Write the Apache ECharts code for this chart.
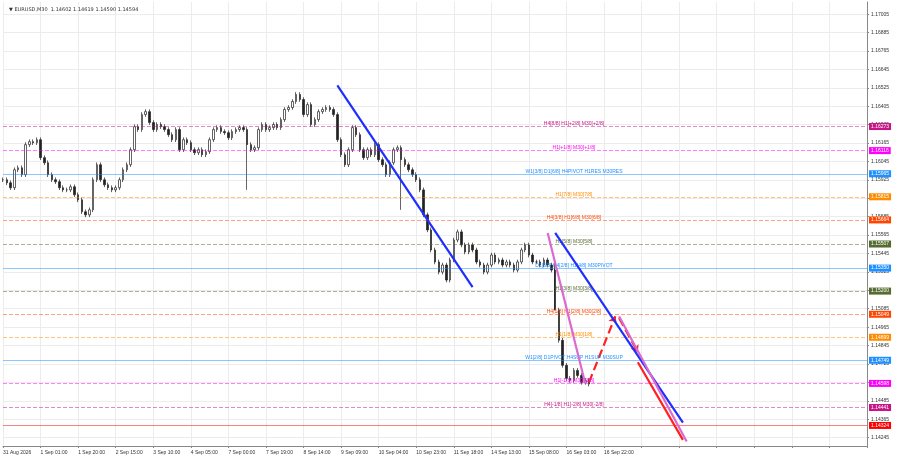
<!DOCTYPE html>
<html>
<head>
<meta charset="utf-8">
<script src="https://cdn.jsdelivr.net/npm/echarts@6/dist/echarts.min.js"></script>
<style>
  html, body { margin: 0; padding: 0; background: #fff; }
  #chart { width: 900px; height: 474px; }
</style>
</head>
<body>
<div id="chart"></div>
<script>
// closes, left to right
const closes = [
  1.15926, 1.15906, 1.15874, 1.15991, 1.16004, 1.15959, 1.16155, 1.16174, 1.16168, 1.16187,
  1.16070, 1.16037, 1.15959, 1.15926, 1.15913, 1.15874, 1.15860, 1.15860, 1.15880, 1.15828,
  1.15795, 1.15717, 1.15697, 1.15730, 1.15926, 1.16024, 1.15926, 1.15893, 1.15874, 1.15860,
  1.15874, 1.15926, 1.15991, 1.16024, 1.16122, 1.16272, 1.16253, 1.16351, 1.16370, 1.16299,
  1.16253, 1.16286, 1.16272, 1.16253, 1.16220, 1.16187, 1.16253, 1.16122, 1.16187, 1.16168,
  1.16122, 1.16102, 1.16122, 1.16089, 1.16109, 1.16187, 1.16253, 1.16266, 1.16240, 1.16233,
  1.16200, 1.16240, 1.16253, 1.16266, 1.16253, 1.16155, 1.16122, 1.16135, 1.16253, 1.16286,
  1.16253, 1.16266, 1.16286, 1.16266, 1.16318, 1.16384, 1.16397, 1.16436, 1.16482, 1.16449,
  1.16351, 1.16416, 1.16286, 1.16318, 1.16370, 1.16384, 1.16397, 1.16384, 1.16351, 1.16187,
  1.16089, 1.16024, 1.16122, 1.16266, 1.16220, 1.16122, 1.16070, 1.16122, 1.16089, 1.16155,
  1.16057, 1.16024, 1.15959, 1.16037, 1.16122, 1.16135, 1.16057, 1.16024, 1.15991, 1.15959,
  1.15926, 1.15860, 1.15697, 1.15599, 1.15468, 1.15390, 1.15324, 1.15370, 1.15272, 1.15403,
  1.15533, 1.15586, 1.15501, 1.15455, 1.15501, 1.15468, 1.15390, 1.15370, 1.15324, 1.15370,
  1.15435, 1.15390, 1.15403, 1.15370, 1.15390, 1.15370, 1.15337, 1.15390, 1.15468, 1.15501,
  1.15435, 1.15390, 1.15390, 1.15370, 1.15403, 1.15370, 1.15337, 1.15076, 1.14879, 1.14716,
  1.14631, 1.14618, 1.14683, 1.14650, 1.14605, 1.14618, 1.14594
];
// candles with long wicks (index -> low price)
const spikeLows = { 65: 1.15860, 106: 1.15730, 147: 1.15390 };

const slotCount = 231;
const tickEvery = 10;
const tickLabels = ['31 Aug 2026', '1 Sep 01:00', '1 Sep 20:00', '2 Sep 15:00', '3 Sep 10:00',
  '4 Sep 05:00', '7 Sep 00:00', '7 Sep 19:00', '8 Sep 14:00', '9 Sep 09:00', '10 Sep 04:00',
  '10 Sep 23:00', '11 Sep 18:00', '14 Sep 13:00', '15 Sep 08:00', '16 Sep 03:00', '16 Sep 22:00'];
const priceTicks = [1.14245, 1.14365, 1.14485, 1.14605, 1.14725, 1.14845, 1.14965, 1.15085,
  1.15205, 1.15325, 1.15445, 1.15565, 1.15685, 1.15805, 1.15925, 1.16045, 1.16165, 1.16285,
  1.16405, 1.16525, 1.16645, 1.16765, 1.16885, 1.17005];

// murrey-style levels
const levelPrices = [1.16273, 1.16116, 1.15965, 1.15815, 1.15664, 1.15507, 1.15350,
  1.15200, 1.15049, 1.14899, 1.14749, 1.14598, 1.14441, 1.14324];
const levelColors = ['#c71585', '#ff00ff', '#1e90ff', '#ff8c00', '#ff4500', '#556b2f', '#1e90ff',
  '#556b2f', '#ff4500', '#ff8c00', '#1e90ff', '#ff00ff', '#c71585', '#ff0000'];
const levelTypes = ['dashed', 'dashed', 'solid', 'dashed', 'dashed', 'dashed', 'solid',
  'dashed', 'dashed', 'dashed', 'solid', 'dashed', 'dashed', 'solid'];
const levelTexts = ['H4[8/8] H1[+2/8] M30[+2/8]', 'H1[+1/8] M30[+1/8]',
  'W1[3/8] D1[6/8] H4PIVOT H1RES M30RES', 'H1[7/8] M30[7/8]', 'H4[3/8] H1[6/8] M30[6/8]',
  'H1[5/8] M30[5/8]', 'D1[5/8] H4[2/8] H1[4/8] M30PIVOT', 'H1[3/8] M30[3/8]',
  'H4[1/8] H1[2/8] M30[2/8]', 'H1[1/8] M30[1/8]', 'W1[2/8] D1PIVOT H4SUP H1SUP M30SUP',
  'H1[-1/8] M30[-1/8]', 'H4[-1/8] H1[-2/8] M30[-2/8]', ''];

// drawn trend lines: [fromIdx, fromPrice, toIdx, toPrice]
const trendBlue = [[89, 1.16541, 125, 1.15226], [147, 1.15579, 181, 1.14343]];
const trendPink = [[145, 1.15579, 155, 1.14598], [164, 1.15036, 182, 1.14220]];
const trendRed = [[169, 1.14736, 181, 1.14230]];
const arrowsRed = [[156, 1.14605, 163, 1.15036], [164, 1.15024, 169, 1.14801]];

const categories = [];
for (let i = 0; i < slotCount; i++) {
  categories.push(i % tickEvery === 0 ? (tickLabels[i / tickEvery] || '') : '');
}
const ohlc = closes.map((c, i) => {
  const o = i === 0 ? c : closes[i - 1];
  let lo = Math.min(o, c) - 0.00015, hi = Math.max(o, c) + 0.00015;
  if (spikeLows[i]) lo = spikeLows[i];
  return [o, c, lo, hi];
});

const levelLines = [], levelLabels = [];
levelPrices.forEach((p, i) => {
  levelLines.push([
    { coord: [0, p], lineStyle: { color: levelColors[i], type: levelTypes[i], opacity: 0.5, width: 1 }, label: { show: false } },
    { coord: [slotCount - 1, p] }]);
  levelLabels.push([
    { coord: [0, p], lineStyle: { color: 'transparent', width: 0 },
      label: { show: true, position: 'end', formatter: p.toFixed(5), color: '#fff', backgroundColor: levelColors[i],
        fontSize: 5, padding: [1, 2], distance: 2 } },
    { coord: [slotCount - 1, p] }]);
  if (levelTexts[i]) levelLabels.push([
    { coord: [120, p], lineStyle: { color: 'transparent', width: 0 }, label: { show: true, position: 'middle',
      formatter: levelTexts[i], color: levelColors[i], fontSize: 5, distance: 0 } },
    { coord: [184, p] }]);
});
const trendSeries = [];
function addTrends(list, color) {
  list.forEach(s => trendSeries.push({ type: 'line', data: [[s[0], s[1]], [s[2], s[3]]], symbol: 'none', z: 5,
    lineStyle: { color: color, width: 2.2 }, silent: true }));
}
addTrends(trendBlue, '#1f2fff');
addTrends(trendPink, '#d96ad0');
addTrends(trendRed, '#ff2020');

const chart = echarts.init(document.getElementById('chart'));
chart.setOption({
  animation: false,
  title: { text: '▼ EURUSD,M30  1.14602 1.14619 1.14590 1.14594', left: 4, top: 2,
    textStyle: { fontSize: 5, fontWeight: 'normal', color: '#333', fontFamily: 'DejaVu Sans' } },
  grid: { left: 1, right: 33, top: 2, bottom: 28 },
  xAxis: {
    type: 'category', data: categories, boundaryGap: false,
    axisLine: { lineStyle: { color: '#888' } },
    axisTick: { interval: i => i % tickEvery === 0, length: 2, lineStyle: { color: '#888' } },
    axisLabel: { interval: i => i % tickEvery === 0, fontSize: 5, color: '#333', align: 'left', margin: 4 },
    splitLine: { show: true, interval: i => i % tickEvery === 0, lineStyle: { color: '#ececec' } }
  },
  yAxis: {
    type: 'value', position: 'right', min: 1.1419, max: 1.17085,
    axisLine: { show: true, lineStyle: { color: '#888' } },
    axisTick: { show: true, length: 2, customValues: priceTicks },
    axisLabel: { fontSize: 5, color: '#333', margin: 4, customValues: priceTicks, formatter: v => v.toFixed(5) },
    splitLine: { lineStyle: { color: '#ececec' } }
  },
  series: [
    {
      type: 'candlestick', data: ohlc, barWidth: 2, z: 3,
      itemStyle: { color: '#fff', color0: '#222', borderColor: '#222', borderColor0: '#222', borderWidth: 0.7 }
    },
    { type: 'line', data: [], markLine: { silent: true, symbol: 'none', data: levelLines } },
    { type: 'line', data: [], z: 6, markLine: { silent: true, symbol: 'none', data: levelLabels } },
    { type: 'line', data: [], z: 6, markLine: { silent: true, symbol: ['none', 'arrow'], symbolSize: 7,
      lineStyle: { color: '#ff2020', width: 2.2, type: 'dashed' }, label: { show: false },
      data: arrowsRed.map(s => [{ coord: [s[0], s[1]] }, { coord: [s[2], s[3]] }]) } }
  ].concat(trendSeries)
});
</script>
</body>
</html>
